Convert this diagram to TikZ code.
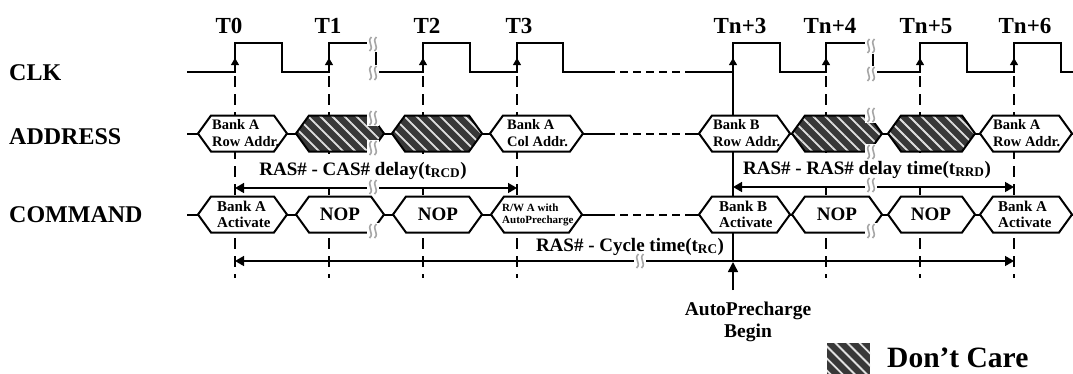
\documentclass[tikz,border=0pt]{standalone}
\usepackage{fontspec}
\setmainfont{Liberation Serif}
\usetikzlibrary{arrows.meta,patterns.meta}

% one bus cell: [style] left tip, right tip, centre line
\newcommand{\hexcell}[4][hexa]{%
  \draw[#1] (#2,#4) -- (#2+13,#4-18) -- (#3-13,#4-18) -- (#3,#4)
    -- (#3-13,#4+18) -- (#2+13,#4+18) -- cycle;}

\begin{document}
\begin{tikzpicture}[x=1pt,y=-1pt,
  sig/.style={line width=2pt},
  hexa/.style={line width=2pt,fill=white},
  hatch/.style={preaction={fill=black!78},pattern={Lines[angle=-45,distance=8.5pt,line width=1.8pt]},pattern color=black!12},
  dcbox/.style={hatch,draw,line width=2pt},
  tick/.style={line width=1.3pt,dash pattern=on 11pt off 7pt},
  gap/.style={sig,dash pattern=on 8pt off 5pt},
  dimline/.style={line width=1.5pt,{Triangle[width=10pt,length=9pt]}-{Triangle[width=10pt,length=9pt]}},
  rowlbl/.style={anchor=base west,inner sep=0pt,font=\bfseries\fontsize{24}{24}\selectfont},
  clklbl/.style={anchor=base,inner sep=0pt,font=\bfseries\fontsize{23}{23}\selectfont},
  celltxt/.style={anchor=west,align=left,inner sep=0pt,font=\bfseries\fontsize{14.5}{17}\selectfont},
  cmdtxt/.style={celltxt,font=\bfseries\fontsize{15}{16}\selectfont},
  rwtxt/.style={celltxt,font=\bfseries\fontsize{11}{12}\selectfont},
  noptxt/.style={inner sep=0pt,font=\bfseries\fontsize{19}{19}\selectfont},
  dimtxt/.style={anchor=base,inner xsep=1pt,inner ysep=8pt,font=\bfseries\fontsize{19}{19}\selectfont},
  brk/.pic={
    \fill[white] (-6,-8) rectangle (6,8);
    \draw[black!35,line width=1.6pt] (-1.5,-7) .. controls (-7,-2) and (2,2) .. (-3.5,7)
      (3.5,-7) .. controls (-2,-2) and (7,2) .. (1.5,7);
  }]
\useasboundingbox (0,0) rectangle (1073,373);

% signal names
\node[rowlbl] (clk) at (9,80) {CLK};
\node[rowlbl] (addr) at (9,144) {ADDRESS};
\node[rowlbl] (cmd) at (9,222) {COMMAND};

\foreach \x/\t [count=\i] in {229/T0,328/T1,427/T2,519/T3,740/Tn+3,830/Tn+4,926/Tn+5,1025/Tn+6}
  \node[clklbl] (t\i) at (\x,33) {\t};

% clock
\draw[sig] (187,72) -| (235,43) -| (282,72) -| (329,43) -| (376,72) -| (423,43) -| (470,72) -| (517,43) -| (563,72) -- (607,72);
\draw[gap] (607,72) -- (687,72);
\draw[sig] (687,72) -| (733,43) -| (780,72) -| (826,43) -| (873,72) -| (920,43) -| (967,72) -| (1014,43) -| (1061,72) -- (1073,72);
\foreach \x in {235,329,423,517,733,826,920,1014}
  \draw[line width=1pt,-{Triangle[width=8pt,length=7pt]}] (\x,68) -- (\x,58);

% edge markers
\foreach \x in {235,329,423,517,826,920,1014}
  \draw[tick] (\x,76) -- (\x,278);
\draw[line width=1.3pt] (733,72) -- (733,261);

\node[dimtxt,fill=white] (rcd) at (363,175) {RAS\# - CAS\# delay(t\textsubscript{RCD})};
\node[dimtxt,fill=white] (rrd) at (867,174) {RAS\# - RAS\# delay time(t\textsubscript{RRD})};
\node[dimtxt] (rc) at (630,251) {RAS\# - Cycle time(t\textsubscript{RC})};

% bus lines
\foreach \y in {133.5,214.5} {
  \draw[sig] (187,\y) -- (607,\y);
  \draw[gap] (607,\y) -- (687,\y);
  \draw[sig] (687,\y) -- (1073,\y);
}

% address
\hexcell{198}{287}{133.5}
\hexcell[dcbox]{296}{384}{133.5}
\hexcell[dcbox]{392}{482}{133.5}
\hexcell{490}{583}{133.5}
\hexcell{699}{790}{133.5}
\hexcell[dcbox]{792}{882}{133.5}
\hexcell[dcbox]{888}{975}{133.5}
\hexcell{980}{1072}{133.5}
\node[celltxt] (a0) at (212,133.5) {Bank A\\Row Addr.};
\node[celltxt] (a3) at (507,133.5) {Bank A\\Col Addr.};
\node[celltxt] (a4) at (713,133.5) {Bank B\\Row Addr.};
\node[celltxt] (a7) at (993,133.5) {Bank A\\Row Addr.};

% command
\hexcell{198}{287}{214.5}
\hexcell{296}{384}{214.5}
\hexcell{393}{482}{214.5}
\hexcell{491}{582}{214.5}
\hexcell{699}{790}{214.5}
\hexcell{792}{882}{214.5}
\hexcell{888}{975}{214.5}
\hexcell{980}{1072}{214.5}
\node[cmdtxt] (c0) at (217,214.5) {Bank A\\Activate};
\node[noptxt] (c1) at (340,214.5) {NOP};
\node[noptxt] (c2) at (438,214.5) {NOP};
\node[rwtxt] (c3) at (502,214.5) {R/W A with\\AutoPrecharge};
\node[cmdtxt] (c4) at (719,214.5) {Bank B\\Activate};
\node[noptxt] (c5) at (837,214.5) {NOP};
\node[noptxt] (c6) at (931,214.5) {NOP};
\node[cmdtxt] (c7) at (998,214.5) {Bank A\\Activate};

% timing spans
\coordinate (rcdL) at (235,188);
\coordinate (rcdR) at (517,188);
\coordinate (rrdL) at (733,187);
\coordinate (rrdR) at (1014,187);
\coordinate (rcL) at (235,261);
\coordinate (rcR) at (1014,261);
\coordinate (rcAP) at (733,262);
\coordinate (apfoot) at (733,290);
\draw[dimline] (rcdL) -- (rcdR);
\draw[dimline] (rrdL) -- (rrdR);
\draw[dimline] (rcL) -- (rcR);
\draw[line width=1.5pt,-{Triangle[width=10pt,length=10pt]}] (apfoot) -- (rcAP);
\node[anchor=north,align=center,inner sep=0pt,font=\bfseries\fontsize{19.5}{22}\selectfont] (ap) at (748,302) {AutoPrecharge\\Begin};

% breaks
\foreach \y in {44,73,118,148,187,231}
  \pic at (373,\y) {brk};
\foreach \y in {46,74,115,152,185,231}
  \pic at (871,\y) {brk};
\pic at (640,261) {brk};

% legend
\fill[hatch] (827,343) rectangle (870,375);
\node[anchor=base west,inner sep=0pt,font=\bfseries\fontsize{29.5}{30}\selectfont] (dc) at (887,367) {Don’t Care};
\end{tikzpicture}
\end{document}
